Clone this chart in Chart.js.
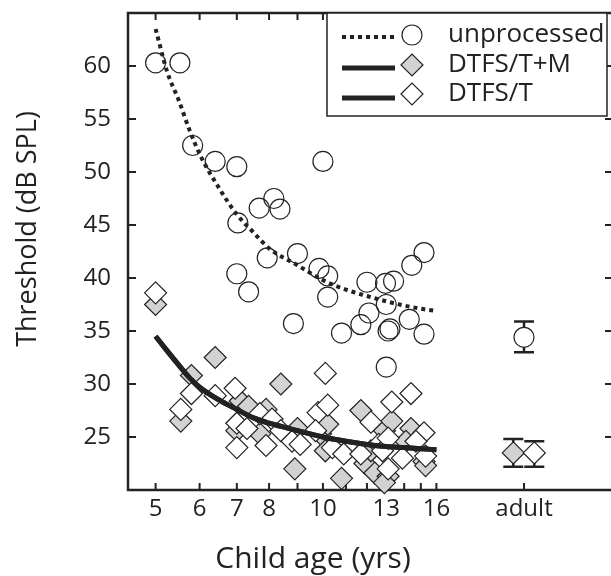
<!DOCTYPE html>
<html>
<head>
<meta charset="utf-8">
<title>Threshold vs child age</title>
<script src="https://cdn.jsdelivr.net/npm/chart.js"></script>
<style>
  html, body { margin: 0; padding: 0; background: #fff; overflow: hidden; }
  #wrap { width: 611px; height: 576px; }
</style>
</head>
<body>
<div id="wrap"><canvas id="myChart" width="611" height="576"></canvas></div>
<script>
    // individual children: unprocessed (open circles)
    const unprocAge = [5.0, 5.53, 5.83, 6.4, 7.0, 10.0, 7.68, 8.16, 8.37, 7.03, 7.94, 9.0, 7.0, 7.35, 9.84, 10.2,
                       10.2, 8.85, 10.8, 11.7, 12.0, 12.1, 12.96, 13.4, 14.45, 15.2, 13.0, 13.2, 13.1, 14.3, 15.2, 13.0];
    const unprocThr = [60.3, 60.3, 52.5, 51.0, 50.5, 51.0, 46.6, 47.5, 46.5, 45.2, 41.9, 42.3, 40.4, 38.7, 40.9, 40.2,
                       38.2, 35.7, 34.8, 35.6, 39.6, 36.7, 39.5, 39.7, 41.2, 42.4, 37.5, 35.2, 35.0, 36.1, 34.7, 31.6];

    // DTFS/T+M (grey diamonds)
    const tmAge = [5.0, 5.55, 5.8, 6.4, 7.1, 7.35, 7.0, 7.7, 7.9, 8.4, 9.0, 8.9, 9.9, 10.2, 10.1, 10.8,
                   11.7, 11.9, 12.2, 12.4, 12.9, 13.3, 13.1, 12.9, 14.4, 14.1, 15.2, 15.3];
    const tmThr = [37.5, 26.5, 30.8, 32.5, 28.4, 27.9, 25.6, 25.3, 27.6, 30.0, 25.8, 22.0, 25.3, 26.2, 23.7, 21.1,
                   27.5, 22.5, 23.7, 21.6, 25.6, 26.5, 21.3, 20.7, 25.8, 24.6, 22.7, 22.3];

    // DTFS/T (white diamonds)
    const tAge = [5.0, 5.55, 5.8, 6.4, 6.95, 7.0, 7.0, 7.3, 7.7, 8.1, 7.9, 8.4, 8.8, 9.1, 9.8, 10.2,
                  10.1, 9.7, 10.4, 10.9, 12.2, 11.7, 12.6, 12.8, 13.1, 13.3, 14.4, 15.2, 14.7, 13.1, 13.9, 15.3];
    const tThr = [38.6, 27.6, 29.1, 28.9, 29.6, 26.3, 24.0, 25.8, 27.2, 26.7, 24.2, 25.6, 24.6, 24.3, 27.3, 28.0,
                  31.0, 25.6, 24.0, 23.4, 26.4, 23.4, 24.3, 23.7, 24.9, 28.3, 29.1, 25.4, 24.6, 22.0, 23.0, 23.2];

    // fitted curves
    const fitAge = [5, 5.25, 5.5, 5.75, 6, 6.5, 7, 7.5, 8, 9, 10, 11, 12, 13, 14, 15, 16];
    const fitUnproc = [63.5, 59.4, 56.8, 54.0, 51.7, 48.5, 46.0, 44.3, 42.8, 41.2, 39.8, 38.9, 38.3, 37.8, 37.4, 37.1, 36.9];
    const fitTM = [34.5, 33.1, 31.8, 30.6, 29.7, 28.5, 27.6, 26.8, 26.3, 25.6, 25.0, 24.6, 24.3, 24.1, 24.0, 23.9, 23.8];
    const fitT = [34.5, 33.1, 31.8, 30.6, 29.7, 28.5, 27.6, 26.8, 26.3, 25.6, 25.0, 24.6, 24.3, 24.1, 24.0, 23.9, 23.8];

    // adults: mean and error bar ends (unprocessed, DTFS/T+M, DTFS/T)
    const adultMean = [34.4, 23.5, 23.5];
    const adultLow = [33.0, 22.2, 22.2];
    const adultHigh = [35.9, 24.8, 24.6];

    const legendLabels = ['unprocessed', 'DTFS/T+M', 'DTFS/T'];
    const xTickVals = [5, 6, 7, 8, 9, 10, 11, 12, 13, 14, 15, 16, 23];
    const xLabelVals = [5, 6, 7, 8, 10, 13, 16];
    const yTickVals = [25, 30, 35, 40, 45, 50, 55, 60];
    const xTitle = 'Child age (yrs)';
    const yTitle = 'Threshold (dB SPL)';

    const ADULT_X = 23;                    // where "adult" sits on the log axis
    const adultShift = [1, 22 / 23, 24 / 23];
    const FONT = '"Open Sans", sans-serif';
    const INK = '#222';
    const GREY = '#d2d2d2';

    const pts = (xs, ys) => xs.map((v, i) => ({ x: v, y: ys[i] }));

    function drawDiamond(ctx, x, y, r, fill) {
        ctx.beginPath();
        ctx.moveTo(x - r, y);
        ctx.lineTo(x, y - r);
        ctx.lineTo(x + r, y);
        ctx.lineTo(x, y + r);
        ctx.closePath();
        ctx.fillStyle = fill;
        ctx.fill();
        ctx.lineWidth = 1.2;
        ctx.strokeStyle = INK;
        ctx.stroke();
    }

    const framePlugin = {
        id: 'frame',
        beforeDatasetsDraw(chart) {
            const { ctx, chartArea: a, scales: { x, y } } = chart;
            const edge = chart.width;   // right spine sits just past the picture edge
            ctx.save();
            ctx.strokeStyle = INK;
            ctx.lineWidth = 2.5;
            ctx.beginPath();
            ctx.moveTo(edge, a.top); ctx.lineTo(a.left, a.top);
            ctx.lineTo(a.left, a.bottom); ctx.lineTo(edge, a.bottom);
            ctx.stroke();
            ctx.lineWidth = 2;
            ctx.beginPath();
            xTickVals.forEach(v => {
                const px = x.getPixelForValue(v);
                ctx.moveTo(px, a.bottom); ctx.lineTo(px, a.bottom - 7);
                ctx.moveTo(px, a.top); ctx.lineTo(px, a.top + 7);
            });
            yTickVals.forEach(v => {
                const py = y.getPixelForValue(v);
                ctx.moveTo(a.left, py); ctx.lineTo(a.left + 8, py);
                ctx.moveTo(edge, py); ctx.lineTo(edge - 6, py);
            });
            ctx.stroke();

            // adult error bars
            ctx.lineWidth = 2.5;
            adultMean.forEach((m, i) => {
                const px = x.getPixelForValue(ADULT_X * adultShift[i]);
                const lo = y.getPixelForValue(adultLow[i]);
                const hi = y.getPixelForValue(adultHigh[i]);
                ctx.beginPath();
                ctx.moveTo(px, lo); ctx.lineTo(px, hi);
                ctx.moveTo(px - 10, lo); ctx.lineTo(px + 10, lo);
                ctx.moveTo(px - 10, hi); ctx.lineTo(px + 10, hi);
                ctx.stroke();
            });

            // axis titles (not centred on the axes in the original)
            ctx.fillStyle = INK;
            ctx.textAlign = 'center';
            ctx.textBaseline = 'middle';
            ctx.font = '30px ' + FONT;
            ctx.fillText(xTitle, 313, 559);
            ctx.translate(28, 229);
            ctx.rotate(-Math.PI / 2);
            ctx.font = '27px ' + FONT;
            ctx.fillText(yTitle, 0, 0);
            ctx.restore();
        },
        afterDraw(chart) {
            const { ctx } = chart;
            ctx.save();
            ctx.fillStyle = '#fff';
            ctx.fillRect(327, 13, 280, 103);
            ctx.strokeStyle = INK;
            ctx.lineWidth = 1.5;
            ctx.strokeRect(327, 13, 280, 103);

            const rows = [35, 65, 94];
            ctx.strokeStyle = INK;
            // dotted sample
            ctx.lineWidth = 4;
            ctx.setLineDash([4, 4]);
            ctx.beginPath(); ctx.moveTo(342, rows[0] + 2); ctx.lineTo(398, rows[0] + 2); ctx.stroke();
            ctx.setLineDash([]);
            ctx.lineWidth = 5;
            ctx.beginPath(); ctx.moveTo(342, rows[1] + 3); ctx.lineTo(395, rows[1] + 3); ctx.stroke();
            ctx.beginPath(); ctx.moveTo(342, rows[2] + 4); ctx.lineTo(395, rows[2] + 4); ctx.stroke();

            ctx.lineWidth = 1.2;
            ctx.beginPath(); ctx.arc(412, rows[0], 10, 0, Math.PI * 2); ctx.stroke();
            drawDiamond(ctx, 412, rows[1], 11, GREY);
            drawDiamond(ctx, 412, rows[2], 11, '#fff');

            ctx.fillStyle = INK;
            ctx.font = '26px ' + FONT;
            ctx.textBaseline = 'middle';
            ctx.textAlign = 'left';
            legendLabels.forEach((t, i) => ctx.fillText(t, 448, rows[i]));
            ctx.restore();
        }
    };

    const diamond = (fill) => ({
        pointStyle: 'rectRot', pointRadius: 11, pointBackgroundColor: fill,
        pointBorderColor: INK, pointBorderWidth: 1.2, showLine: false, clip: false
    });

    const ctx = document.getElementById('myChart').getContext('2d');
    const myChart = new Chart(ctx, {
        type: 'scatter',
        data: {
            datasets: [
                { label: 'fit unprocessed', data: pts(fitAge, fitUnproc), showLine: true, pointRadius: 0,
                  borderColor: INK, borderWidth: 4, borderDash: [4, 4], cubicInterpolationMode: 'monotone', clip: false },
                { label: 'fit DTFS/T+M', data: pts(fitAge, fitTM), showLine: true, pointRadius: 0,
                  borderColor: INK, borderWidth: 5, cubicInterpolationMode: 'monotone', clip: false },
                { label: 'fit DTFS/T', data: pts(fitAge, fitT), showLine: true, pointRadius: 0,
                  borderColor: INK, borderWidth: 5, cubicInterpolationMode: 'monotone', clip: false },
                { label: 'DTFS/T', data: pts(tAge, tThr), ...diamond('#fff') },
                { label: 'DTFS/T+M', data: pts(tmAge, tmThr), ...diamond(GREY) },
                { label: 'unprocessed', data: pts(unprocAge, unprocThr), pointStyle: 'circle', pointRadius: 10,
                  pointBackgroundColor: 'rgba(0,0,0,0)', pointBorderColor: INK, pointBorderWidth: 1.2, clip: false },
                { label: 'adult DTFS/T', data: [{ x: ADULT_X * adultShift[2], y: adultMean[2] }], ...diamond('#fff') },
                { label: 'adult DTFS/T+M', data: [{ x: ADULT_X * adultShift[1], y: adultMean[1] }], ...diamond(GREY) },
                { label: 'adult unprocessed', data: [{ x: ADULT_X * adultShift[0], y: adultMean[0] }], pointStyle: 'circle',
                  pointRadius: 10, pointBackgroundColor: '#fff', pointBorderColor: INK, pointBorderWidth: 1.2, clip: false }
            ]
        },
        options: {
            responsive: false,
            animation: false,
            events: [],
            devicePixelRatio: 1,
            layout: { padding: { top: 13, right: 0, left: 0, bottom: 0 } },
            plugins: { legend: { display: false }, tooltip: { enabled: false } },
            scales: {
                x: {
                    type: 'logarithmic',
                    min: 4.46,
                    max: 31.35,
                    grid: { display: false, drawTicks: false },
                    border: { display: false },
                    afterBuildTicks: (s) => { s.ticks = xTickVals.map(v => ({ value: v })); },
                    afterFit: (s) => { s.height = 86; s.paddingLeft = 0; s.paddingRight = 0; },
                    ticks: {
                        autoSkip: false, maxRotation: 0, padding: 5, color: INK,
                        font: { family: FONT, size: 24 },
                        callback: (v) => v === ADULT_X ? 'adult' : (xLabelVals.includes(v) ? String(v) : '')
                    }
                },
                y: {
                    min: 20,
                    max: 65,
                    grid: { display: false, drawTicks: false },
                    border: { display: false },
                    afterBuildTicks: (s) => { s.ticks = yTickVals.map(v => ({ value: v })); },
                    afterFit: (s) => { s.width = 128; s.paddingTop = 0; s.paddingBottom = 0; },
                    ticks: { padding: 17, color: INK, font: { family: FONT, size: 24 } }
                }
            }
        },
        plugins: [framePlugin]
    });
</script>
</body>
</html>
